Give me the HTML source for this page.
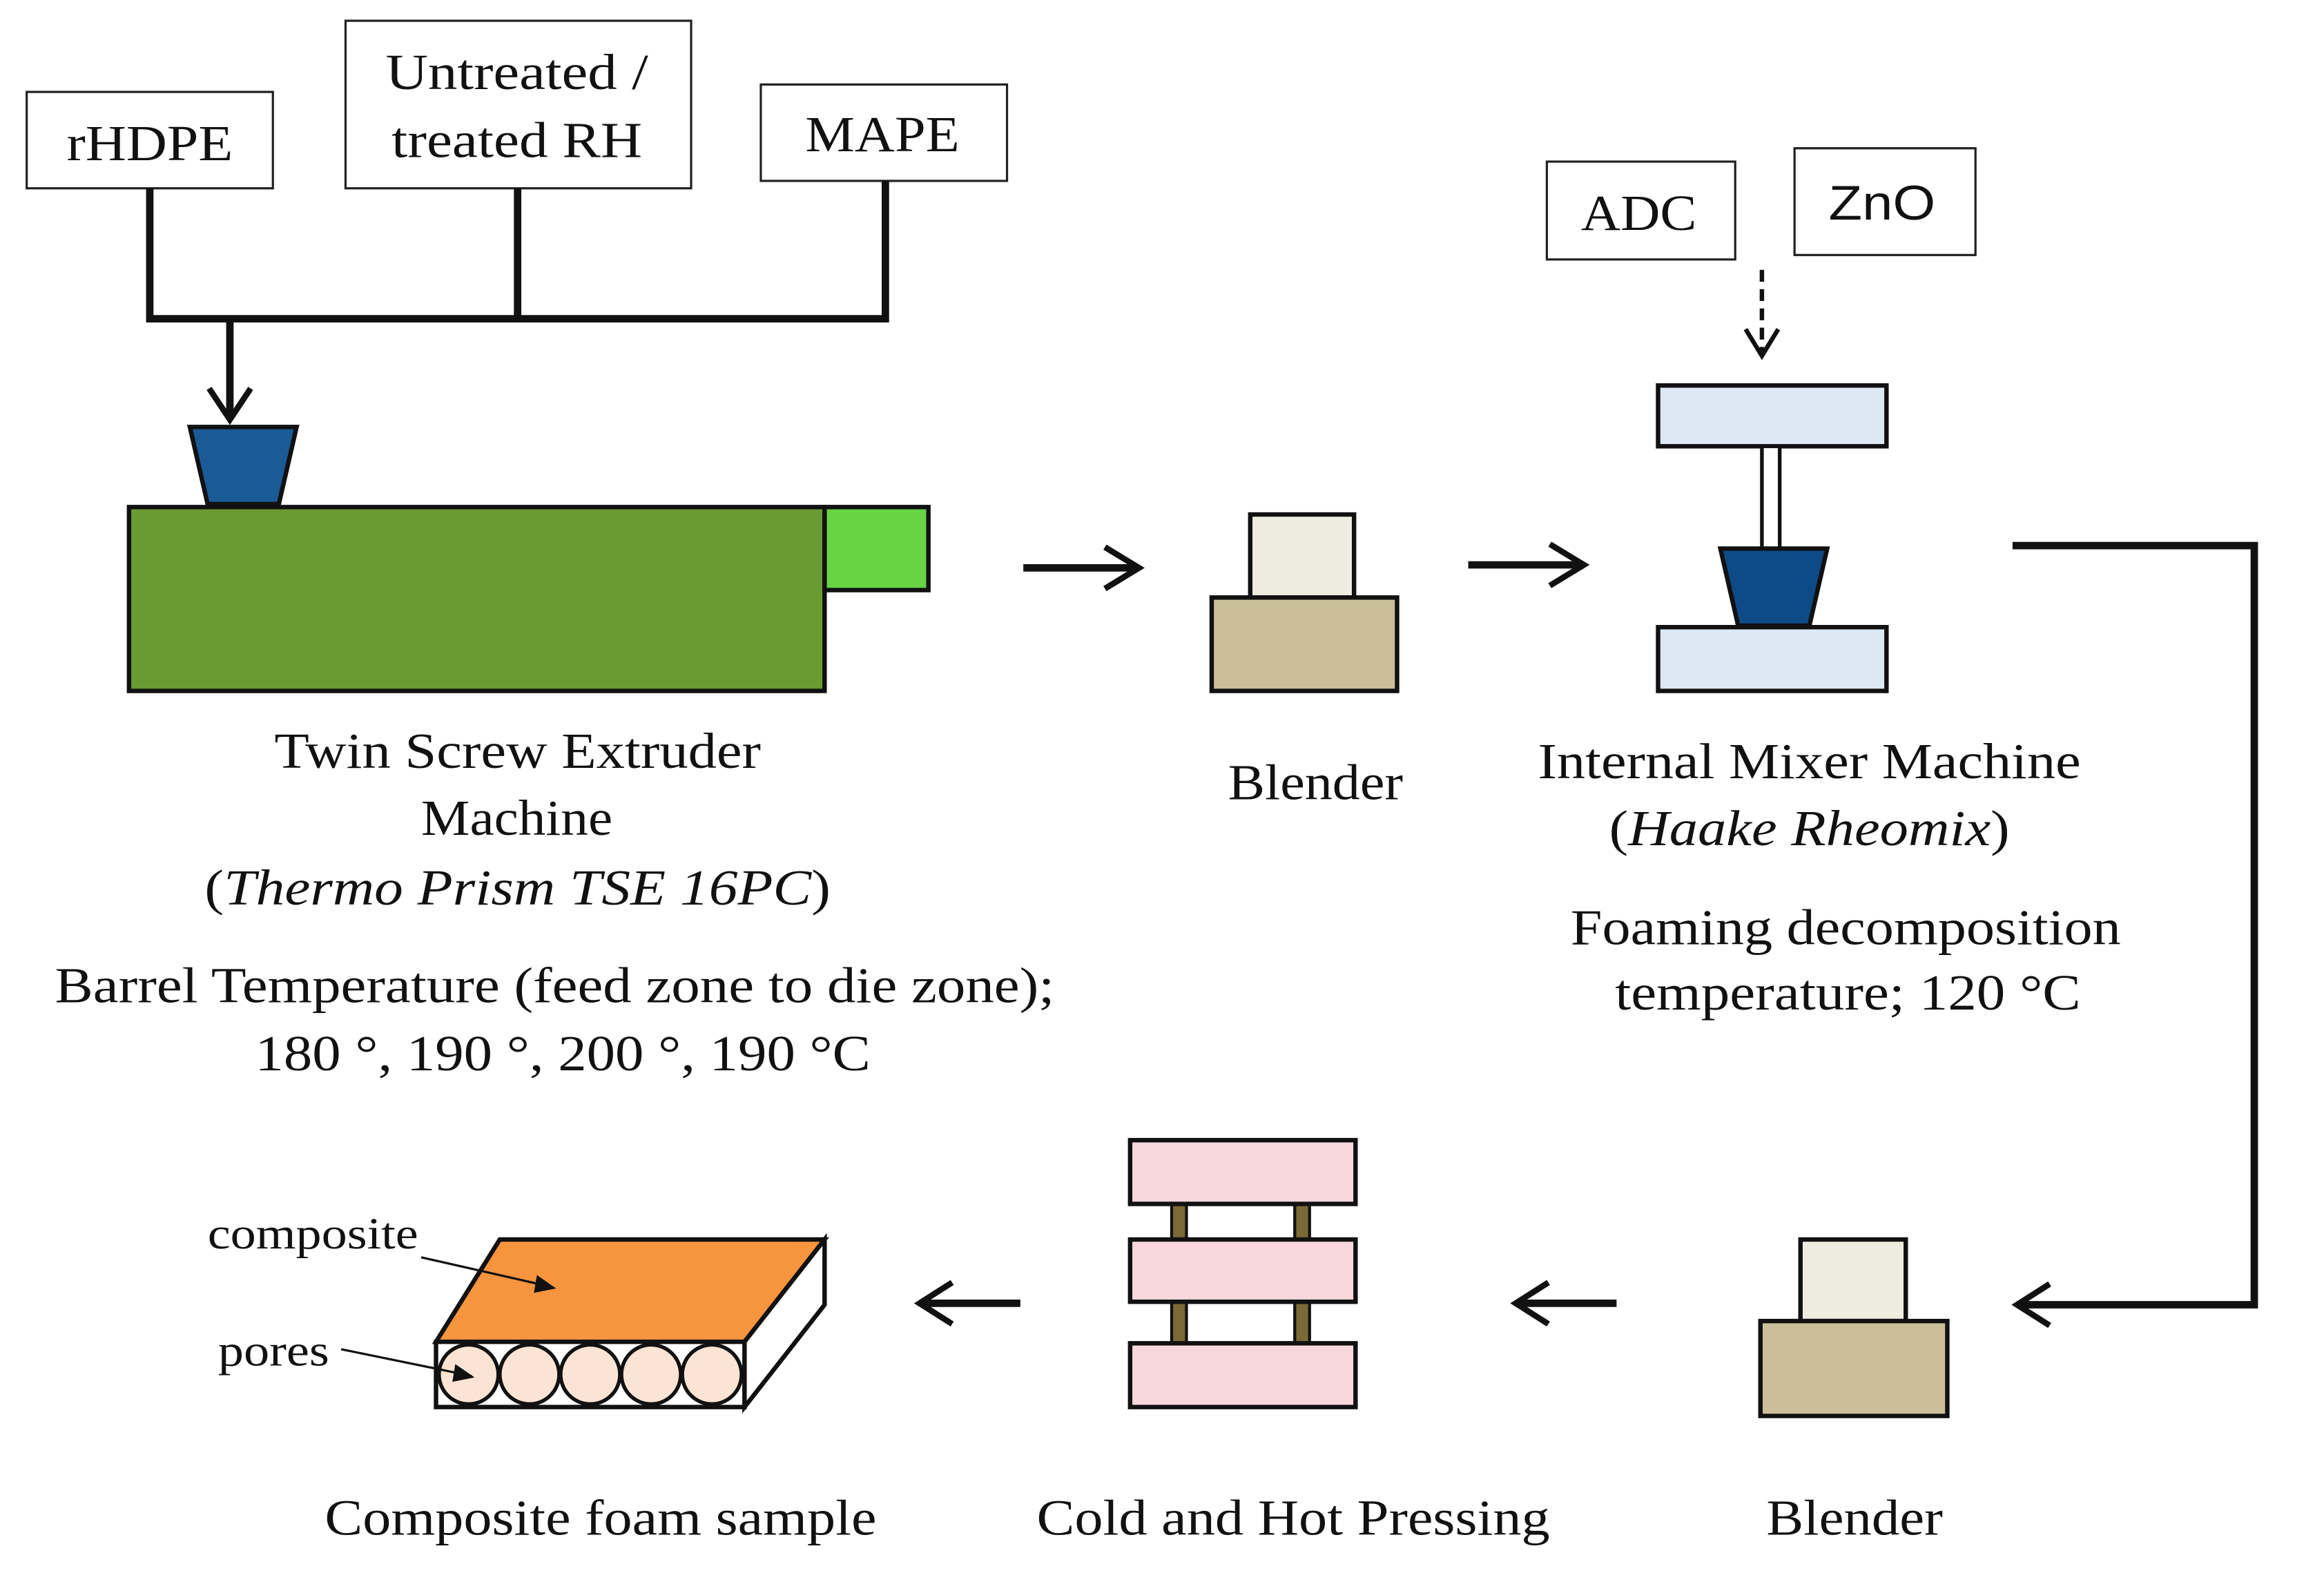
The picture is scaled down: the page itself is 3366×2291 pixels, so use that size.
<!DOCTYPE html>
<html><head><meta charset="utf-8"><style>
html,body{margin:0;padding:0;background:#fff;}
svg{display:block;}
text{font-family:"Liberation Serif",serif;font-size:34px;fill:#111;}
</style></head><body>
<svg width="3366" height="2291" viewBox="0 0 1567 1067" preserveAspectRatio="none" xmlns="http://www.w3.org/2000/svg">
<rect width="1567" height="1067" fill="#fff"/>
<g fill="#fff" stroke="#222" stroke-width="1.5">
<rect x="18" y="62" width="166" height="65"/>
<rect x="233" y="14" width="233" height="113"/>
<rect x="513" y="57" width="166" height="65"/>
<rect x="1043" y="109" width="127" height="66"/>
<rect x="1210" y="100" width="122" height="72"/>
</g>
<text x="45" y="108" textLength="112" lengthAdjust="spacingAndGlyphs">rHDPE</text>
<text x="260" y="60" textLength="177" lengthAdjust="spacingAndGlyphs">Untreated  /</text>
<text x="264" y="106" textLength="169" lengthAdjust="spacingAndGlyphs">treated RH</text>
<text x="543" y="102" textLength="104" lengthAdjust="spacingAndGlyphs">MAPE</text>
<text x="1066" y="155" textLength="78" lengthAdjust="spacingAndGlyphs">ADC</text>
<text x="1233" y="148" textLength="72" lengthAdjust="spacingAndGlyphs" style="font-family:'Liberation Sans',sans-serif;font-size:33px">ZnO</text>
<g stroke="#111" stroke-width="5" fill="none">
<polyline points="101,127 101,215 597,215 597,122"/>
<line x1="349" y1="127" x2="349" y2="215"/>
<line x1="155" y1="215" x2="155" y2="282"/>
<polyline points="141,262 155,283 169,262" stroke-width="4"/>
<line x1="690" y1="383" x2="768" y2="383"/>
<polyline points="745,369 768,383 745,397" stroke-width="4"/>
<line x1="990" y1="381" x2="1068" y2="381"/>
<polyline points="1045,367 1068,381 1045,395" stroke-width="4"/>
<line x1="1188" y1="182" x2="1188" y2="238" stroke-dasharray="8,5" stroke-width="3"/>
<polyline points="1177,222 1188,240 1199,222" stroke-width="3"/>
<polyline points="1357,368 1520,368 1520,880 1360,880"/>
<polyline points="1382,866 1360,880 1382,894" stroke-width="4"/>
<line x1="1090" y1="879" x2="1022" y2="879"/>
<polyline points="1044,865 1022,879 1044,893" stroke-width="4"/>
<line x1="688" y1="879" x2="620" y2="879"/>
<polyline points="642,865 620,879 642,893" stroke-width="4"/>
</g>
<g stroke="#111" stroke-width="3">
<polygon points="128,288 200,288 188,340 140,340" fill="#1a5a96"/>
<rect x="87" y="342" width="469" height="124" fill="#6a9a32"/>
<rect x="556" y="342" width="70" height="56" fill="#66d345"/>
<rect x="843" y="347" width="70" height="56" fill="#eeecdf"/>
<rect x="817" y="403" width="125" height="63" fill="#cbbf9a"/>
<rect x="1118" y="260" width="154" height="41" fill="#dce8f4"/>
<rect x="1188" y="301" width="12" height="69" fill="#fff" stroke-width="2.5"/>
<polygon points="1160,370 1232,370 1220,422 1172,422" fill="#0e4a86"/>
<rect x="1118" y="423" width="154" height="43" fill="#dce8f4"/>
<rect x="1214" y="836" width="71" height="55" fill="#eeecdf"/>
<rect x="1187" y="891" width="126" height="64" fill="#cbbf9a"/>
<rect x="790" y="812" width="10" height="24" fill="#7b6a35" stroke-width="2"/>
<rect x="873" y="812" width="10" height="24" fill="#7b6a35" stroke-width="2"/>
<rect x="790" y="878" width="10" height="28" fill="#7b6a35" stroke-width="2"/>
<rect x="873" y="878" width="10" height="28" fill="#7b6a35" stroke-width="2"/>
<rect x="762" y="769" width="152" height="43" fill="#f7d7dc"/>
<rect x="762" y="836" width="152" height="42" fill="#f7d7dc"/>
<rect x="762" y="906" width="152" height="43" fill="#f7d7dc"/>
<polygon points="294,905 337,836 556,836 502,905" fill="#f7943e"/>
<polygon points="502,905 556,836 556,880 502,949" fill="#fff"/>
<rect x="294" y="905" width="208" height="44" fill="#fff"/>
</g>
<g fill="#fce4d4" stroke="#111" stroke-width="2.5">
<circle cx="316" cy="927" r="20"/><circle cx="357" cy="927" r="20"/><circle cx="398" cy="927" r="20"/><circle cx="439" cy="927" r="20"/><circle cx="480" cy="927" r="20"/>
</g>
<g stroke="#111" stroke-width="1.5">
<line x1="284" y1="848" x2="372" y2="868"/>
<line x1="230" y1="910" x2="318" y2="928"/>
</g>
<polygon points="375,869 362,860 360,872" fill="#111"/>
<polygon points="320,929 307,920 305,932" fill="#111"/>
<text x="140" y="842" textLength="142" lengthAdjust="spacingAndGlyphs" style="font-size:30px">composite</text>
<text x="147" y="921" textLength="75" lengthAdjust="spacingAndGlyphs" style="font-size:30px">pores</text>
<text x="185" y="518" textLength="328" lengthAdjust="spacingAndGlyphs">Twin  Screw  Extruder</text>
<text x="284" y="563" textLength="129" lengthAdjust="spacingAndGlyphs">Machine</text>
<text x="138" y="610" textLength="422" lengthAdjust="spacingAndGlyphs">(<tspan font-style="italic">Thermo  Prism  TSE  16PC</tspan>)</text>
<text x="37" y="676" textLength="674" lengthAdjust="spacingAndGlyphs">Barrel Temperature  (feed zone to die zone);</text>
<text x="172" y="722" textLength="415" lengthAdjust="spacingAndGlyphs">180 °, 190 °, 200 °, 190 °C</text>
<text x="828" y="539" textLength="118" lengthAdjust="spacingAndGlyphs">Blender</text>
<text x="1037" y="525" textLength="366" lengthAdjust="spacingAndGlyphs">Internal  Mixer  Machine</text>
<text x="1085" y="570" textLength="270" lengthAdjust="spacingAndGlyphs">(<tspan font-style="italic">Haake Rheomix</tspan>)</text>
<text x="1059" y="637" textLength="371" lengthAdjust="spacingAndGlyphs">Foaming  decomposition</text>
<text x="1089" y="681" textLength="314" lengthAdjust="spacingAndGlyphs">temperature;  120 °C</text>
<text x="219" y="1035" textLength="372" lengthAdjust="spacingAndGlyphs">Composite  foam  sample</text>
<text x="699" y="1035" textLength="346" lengthAdjust="spacingAndGlyphs">Cold and Hot Pressing</text>
<text x="1191" y="1035" textLength="119" lengthAdjust="spacingAndGlyphs">Blender</text>
</svg>
</body></html>
